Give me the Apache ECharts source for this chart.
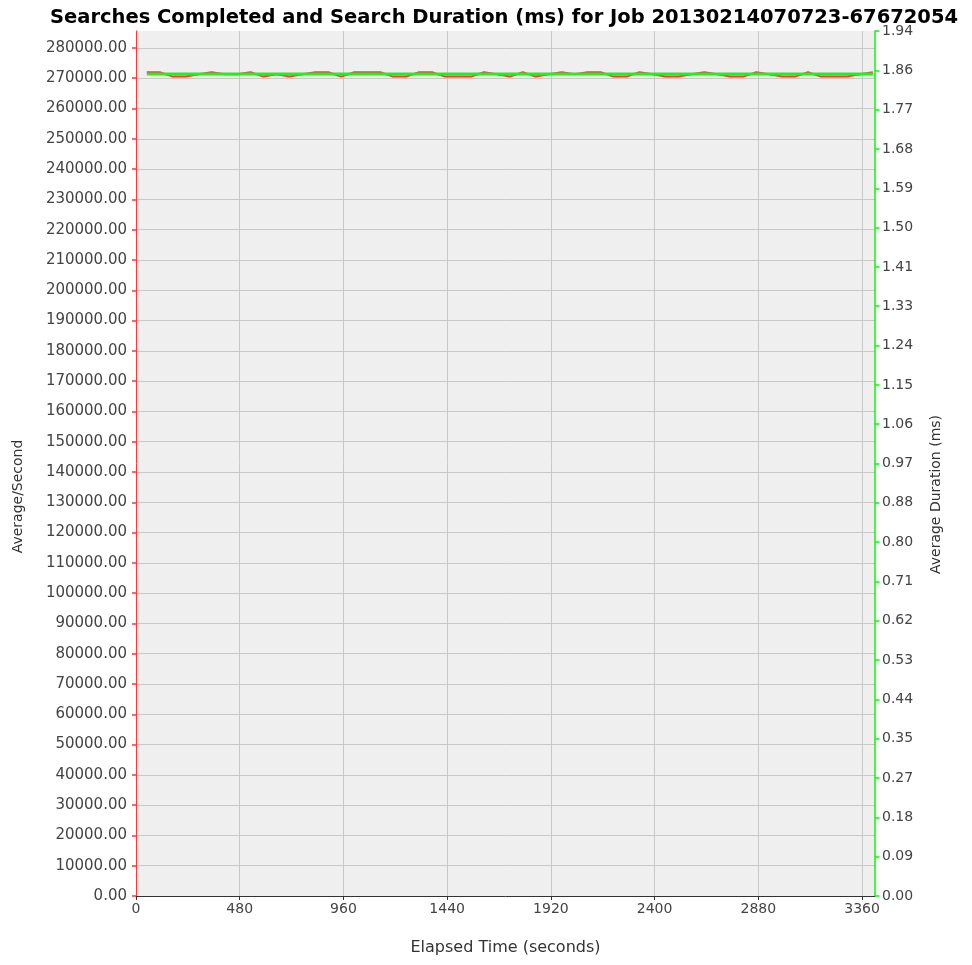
<!DOCTYPE html>
<html>
<head>
<meta charset="utf-8">
<script src="https://cdn.jsdelivr.net/npm/echarts@6/dist/echarts.min.js"></script>
<style>
html, body { margin: 0; padding: 0; background: #fff; }
#chart { width: 972px; height: 965px; }
</style>
</head>
<body>
<div id="chart"></div>
<script>
// elapsed time of each sample (seconds)
var times = [50, 110, 170, 230, 290, 350, 410, 470, 530, 590, 650, 710, 770, 830, 890, 950,
	1010, 1070, 1130, 1190, 1250, 1310, 1370, 1430, 1490, 1550, 1610, 1670, 1730, 1790, 1850,
	1910, 1970, 2030, 2090, 2150, 2210, 2270, 2330, 2390, 2450, 2510, 2570, 2630, 2690, 2750,
	2810, 2870, 2930, 2990, 3050, 3110, 3170, 3230, 3290, 3350, 3410];
// searches completed per second
var searchesPerSecond = [272000, 272000, 270550, 270550, 271350, 272000, 271350, 271350, 272000, 270550,
	271350, 270550, 271350, 272000, 272000, 270550, 272000, 272000, 272000, 270550,
	270550, 272000, 272000, 270550, 270550, 270550, 272000, 271350, 270550, 272000,
	270550, 271350, 272000, 271350, 272000, 272000, 270550, 270550, 272000, 271350,
	270550, 270550, 271350, 272000, 271350, 270550, 270550, 272000, 271350, 270550,
	270550, 272000, 270550, 270550, 270550, 271350, 272000];
// average duration (ms)
var avgDuration = [1.847, 1.847, 1.847, 1.847, 1.847, 1.847, 1.847, 1.847, 1.847, 1.847,
	1.847, 1.847, 1.847, 1.847, 1.847, 1.847, 1.847, 1.847, 1.847, 1.847,
	1.847, 1.847, 1.847, 1.847, 1.847, 1.847, 1.847, 1.847, 1.847, 1.847,
	1.847, 1.847, 1.847, 1.847, 1.847, 1.847, 1.847, 1.847, 1.847, 1.847,
	1.847, 1.847, 1.847, 1.847, 1.847, 1.847, 1.847, 1.847, 1.847, 1.847,
	1.847, 1.847, 1.847, 1.847, 1.847, 1.847, 1.847];

var chart = echarts.init(document.getElementById('chart'));

function pairs(xs, ys) {
	var out = [];
	for (var i = 0; i < xs.length; i++) out.push([xs[i], ys[i]]);
	return out;
}

var font = 'DejaVu Sans';
var red = '#ff3838';
var green = '#22ee22';

var option = {
	animation: false,
	backgroundColor: '#ffffff',
	title: {
		text: 'Searches Completed and Search Duration (ms) for Job 20130214070723-67672054',
		left: 499,
		textAlign: 'center',
		top: 3,
		textStyle: { fontFamily: font, fontSize: 19.5, fontWeight: 'bold', color: '#000' }
	},
	grid: {
		left: 136, right: 97, top: 31, bottom: 69,
		outerBoundsMode: 'none',
		containLabel: false,
		show: true, backgroundColor: '#efefef', borderWidth: 0
	},
	xAxis: {
		type: 'value',
		min: 0, max: 3420, interval: 480,
		name: 'Elapsed Time (seconds)',
		nameLocation: 'middle',
		nameGap: 44,
		nameTextStyle: { fontFamily: font, fontSize: 16, color: '#333' },
		axisLine: { lineStyle: { color: '#333', width: 1 } },
		axisTick: { length: 4, lineStyle: { color: '#333' } },
		axisLabel: {
			showMaxLabel: false, fontFamily: font, fontSize: 14, color: '#444', margin: 6,
			formatter: function(v) { return String(v); }
		},
		splitLine: { show: true, showMinLine: false, showMaxLine: false, lineStyle: { color: '#c8c8c8', width: 1 } }
	},
	yAxis: [
		{
			type: 'value',
			min: 0, max: 285600, interval: 10000,
			name: 'Average/Second',
			nameLocation: 'middle',
			nameRotate: 90,
			nameGap: 111,
			nameTextStyle: { fontFamily: font, fontSize: 14, color: '#333', padding: [0, 66, 0, 0] },
			axisLine: { show: true, lineStyle: { color: red, width: 1 } },
			axisTick: { show: true, length: 4, lineStyle: { color: red, width: 1.5 } },
			axisLabel: {
				showMaxLabel: false, fontFamily: font, fontSize: 15, color: '#444', margin: 9,
				formatter: function(v) { return v.toFixed(2); }
			},
			splitLine: { show: true, showMinLine: false, showMaxLine: false, lineStyle: { color: '#c8c8c8', width: 1 } }
		},
		{
			type: 'value',
			position: 'right',
			min: 0, max: 1.9437, interval: 0.08835,
			name: 'Average Duration (ms)',
			nameLocation: 'middle',
			nameRotate: 90,
			nameGap: 54,
			nameTextStyle: { fontFamily: font, fontSize: 14, color: '#333', padding: [0, 62, 0, 0] },
			axisLine: { show: true, lineStyle: { color: '#00ff00', width: 1.5 } },
			axisTick: { show: true, length: 4, lineStyle: { color: '#00ff00', width: 1.5 } },
			axisLabel: {
				fontFamily: font, fontSize: 14, color: '#444', margin: 7,
				formatter: function(v) { return v.toFixed(2); }
			},
			splitLine: { show: false }
		}
	],
	series: [
		{
			name: 'Average/Second',
			type: 'line',
			yAxisIndex: 0,
			data: pairs(times, searchesPerSecond),
			showSymbol: false,
			lineStyle: { color: red, width: 2 },
			itemStyle: { color: red }
		},
		{
			name: 'Average Duration (ms)',
			type: 'line',
			yAxisIndex: 1,
			data: pairs(times, avgDuration),
			showSymbol: false,
			lineStyle: { color: green, width: 3 },
			itemStyle: { color: green }
		}
	]
};

chart.setOption(option);
</script>
</body>
</html>
